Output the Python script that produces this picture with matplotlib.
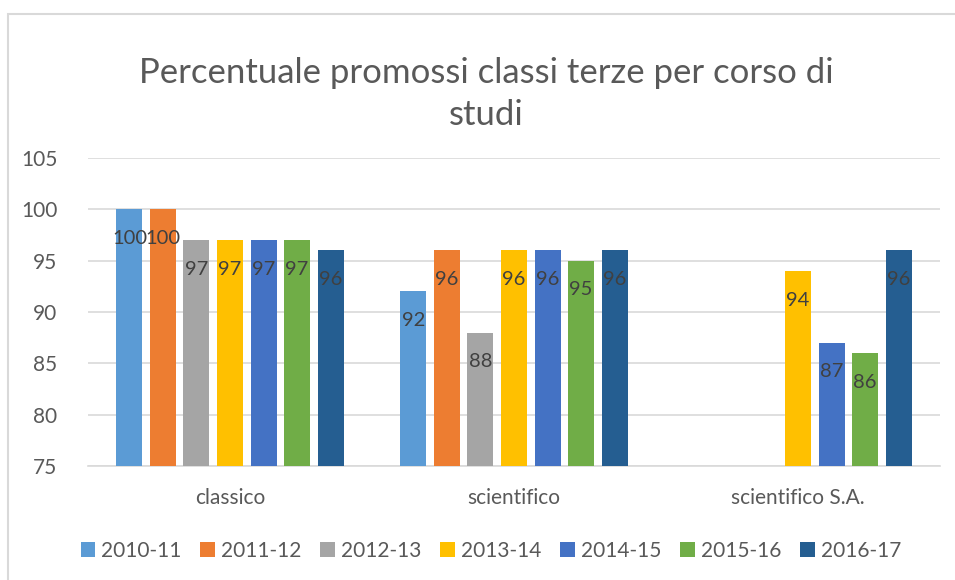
import numpy as np
import matplotlib.pyplot as plt
from matplotlib.patches import Rectangle

plt.rcParams['font.family'] = ['Lato', 'DejaVu Sans']

categorie = ["classico", "scientifico", "scientifico S.A."]
anni = ["2010-11", "2011-12", "2012-13", "2013-14", "2014-15", "2015-16", "2016-17"]
colori = ["#5B9BD5", "#ED7D31", "#A5A5A5", "#FFC000", "#4472C4", "#70AD47", "#255E91"]

# una lista per anno: classico, scientifico, scientifico S.A.
v_2010 = [100, 92, np.nan]
v_2011 = [100, 96, np.nan]
v_2012 = [97, 88, np.nan]
v_2013 = [97, 96, 94]
v_2014 = [97, 96, 87]
v_2015 = [97, 95, 86]
v_2016 = [96, 96, 96]
serie = [v_2010, v_2011, v_2012, v_2013, v_2014, v_2015, v_2016]

testo = "#595959"

fig = plt.figure(figsize=(9.55, 5.8), dpi=100)
ax = fig.add_axes([88 / 955, 1 - 466 / 580, (940 - 88) / 955, (466 - 158) / 580])

# bordo del grafico
fig.patches.append(Rectangle((8 / 955, -0.1), 1.2, 1.1 - 14 / 580, transform=fig.transFigure,
                             fill=False, edgecolor="#D9D9D9", linewidth=1.5))

x = np.arange(len(categorie))
slot = 0.118
larg = 0.0915
for i, (anno, valori, col) in enumerate(zip(anni, serie, colori)):
    pos = x + slot * (i - 3)
    ax.bar(pos, valori, width=larg, color=col, label=anno, zorder=3)
    for p, v in zip(pos, valori):
        if np.isnan(v):
            continue
        ax.annotate(f"{v:.0f}", (p, v), xytext=(0, -21), textcoords="offset points",
                    ha="center", va="center", fontsize=14.5, color="#404040", zorder=4)

ax.set_ylim(75, 105)
ax.set_yticks(range(75, 106, 5))
ax.set_xlim(-0.5, 2.5)
ax.set_xticks(x)
ax.set_xticklabels(categorie)
ax.grid(True, axis="y", color="#D9D9D9", linewidth=1.2, zorder=0)
for s in ["top", "right", "left"]:
    ax.spines[s].set_visible(False)
ax.spines["bottom"].set_color("#D9D9D9")
ax.spines["bottom"].set_linewidth(1.2)
ax.tick_params(axis="both", length=0, labelsize=15, labelcolor=testo)
ax.tick_params(axis="y", pad=22)
ax.tick_params(axis="x", pad=16)

fig.text(486 / 955, 1 - 94 / 580, "Percentuale promossi classi terze per corso di\nstudi",
         ha="center", va="center", fontsize=25, color=testo, linespacing=1.4)

fig.legend(loc="center", bbox_to_anchor=(491 / 955, 1 - 551 / 580), ncol=7, frameon=False,
           fontsize=15, labelcolor=testo, handlelength=0.7, handleheight=0.7,
           handletextpad=0.3, columnspacing=0.9)

fig.savefig("out.png", dpi=100)
